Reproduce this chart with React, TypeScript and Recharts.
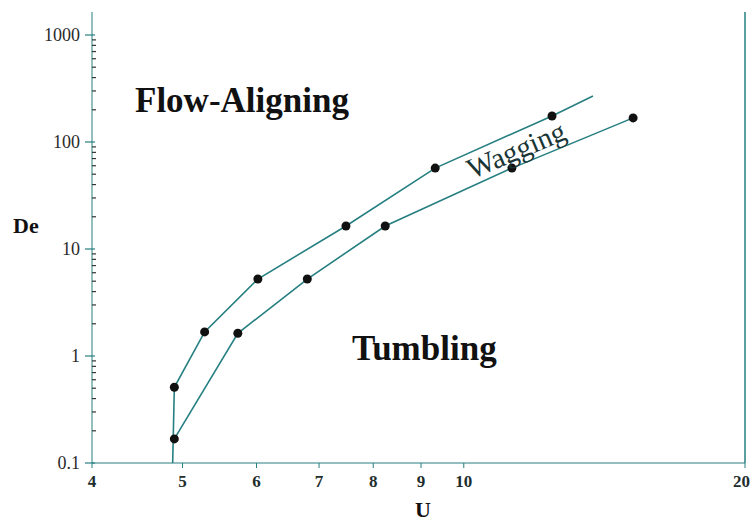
import React from 'react'
import {
  ComposedChart,
  Line,
  XAxis,
  YAxis,
  ReferenceLine,
} from 'recharts'

// U values (x) and De values (y)
const upperU = [4.88, 4.9, 5.28, 6.02, 7.48, 9.32, 12.43, 13.75]
const upperDe = [0.1, 0.51, 1.68, 5.24, 16.4, 57, 175, 269]
const upperHasDot = [false, true, true, true, true, true, true, false]

const lowerU = [4.9, 5.73, 6.8, 8.24, 11.26, 15.18]
const lowerDe = [0.168, 1.63, 5.24, 16.4, 57, 168]

const xTicks = [4, 5, 6, 7, 8, 9, 10, 20]
const yMajorTicks = [0.1, 1, 10, 100, 1000]
const yMinorTicks = [
  0.2, 0.3, 0.4, 0.5, 0.6, 0.7, 0.8, 0.9,
  2, 3, 4, 5, 6, 7, 8, 9,
  20, 30, 40, 50, 60, 70, 80, 90,
  200, 300, 400, 500, 600, 700, 800, 900,
]

const upperData = upperU.map((u, i) => ({ u, de: upperDe[i], dot: upperHasDot[i] }))
const lowerData = lowerU.map((u, i) => ({ u, de: lowerDe[i], dot: true }))

const ink = '#267f80'
const serif = 'Liberation Serif, DejaVu Serif, serif'

const renderDot = (props: any) => {
  const { cx, cy, payload, index } = props
  if (!payload || !payload.dot) return <g key={`n-${index}`} />
  return <circle key={`d-${index}`} cx={cx} cy={cy} r={4.5} fill="#111" />
}

const XTick = (props: any) => {
  const { x, y, payload } = props
  // last label sits on the right edge, keep it inside the picture
  const last = payload.value === xTicks[xTicks.length - 1]
  return (
    <text
      x={last ? 750 : x}
      y={y}
      dy="0.71em"
      textAnchor={last ? 'end' : 'middle'}
      style={{ fontFamily: serif, fontWeight: 'bold', fontSize: 17 }}
      fill="#1e2e2e"
    >
      {payload.value}
    </text>
  )
}

// y ticks: majors get a label and an outward tick, minors a short inward tick
const YTick = (props: any) => {
  const { x, y, payload } = props
  const axisX = x + 12
  if (!yMajorTicks.includes(payload.value)) {
    return <line x1={axisX} x2={axisX + 4} y1={y} y2={y} stroke="#333" strokeWidth={1.2} />
  }
  return (
    <g>
      <line x1={axisX - 7} x2={axisX + 3} y1={y} y2={y} stroke={ink} strokeWidth={1.2} />
      <text x={x} y={y} dy="0.35em" textAnchor="end" style={{ fontFamily: serif, fontSize: 18 }} fill="#2a2a2a">
        {payload.value}
      </text>
    </g>
  )
}

const App = () => {
  return (
    <div style={{ position: 'absolute', left: 0, top: 0, width: 751, height: 523, fontFamily: serif }}>
      <ComposedChart
        width={751}
        height={523}
        margin={{ top: 12, right: 6, bottom: 0, left: 0 }}
        style={{ fontFamily: serif }}
      >
        <XAxis
          type="number"
          dataKey="u"
          scale="log"
          domain={[4, 20]}
          allowDataOverflow
          ticks={xTicks}
          interval={0}
          height={60}
          stroke={ink}
          tickSize={5}
          tickMargin={7}
          tick={<XTick />}
        />
        <YAxis
          type="number"
          scale="log"
          domain={[0.1, 1640]}
          allowDataOverflow
          ticks={[...yMajorTicks, ...yMinorTicks]}
          interval={0}
          width={92}
          stroke={ink}
          tickLine={false}
          tickSize={7}
          tickMargin={5}
          tick={<YTick />}
        />
        <ReferenceLine x={20} stroke={ink} strokeWidth={1.5} ifOverflow="visible" />
        <Line
          data={upperData}
          dataKey="de"
          stroke={ink}
          strokeWidth={1.6}
          dot={renderDot}
          activeDot={false}
          isAnimationActive={false}
        />
        <Line
          data={lowerData}
          dataKey="de"
          stroke={ink}
          strokeWidth={1.6}
          dot={renderDot}
          activeDot={false}
          isAnimationActive={false}
        />
      </ComposedChart>
      <svg
        width={751}
        height={523}
        style={{ position: 'absolute', left: 0, top: 0, pointerEvents: 'none' }}
      >
        <text x={135} y={112} fontFamily={serif} fontWeight="bold" fontSize={35} fill="#111">
          Flow-Aligning
        </text>
        <text x={352} y={360} fontFamily={serif} fontWeight="bold" fontSize={35} fill="#111">
          Tumbling
        </text>
        <text
          x={520}
          y={159}
          textAnchor="middle"
          fontFamily={serif}
          fontSize={29}
          fill="#1a3535"
          transform="rotate(-23 520 159)"
        >
          Wagging
        </text>
        <text x={13} y={233} fontFamily={serif} fontWeight="bold" fontSize={22} fill="#111">
          De
        </text>
        <text x={423} y={517} textAnchor="middle" fontFamily={serif} fontWeight="bold" fontSize={22} fill="#111">
          U
        </text>
      </svg>
    </div>
  )
}

export default App
